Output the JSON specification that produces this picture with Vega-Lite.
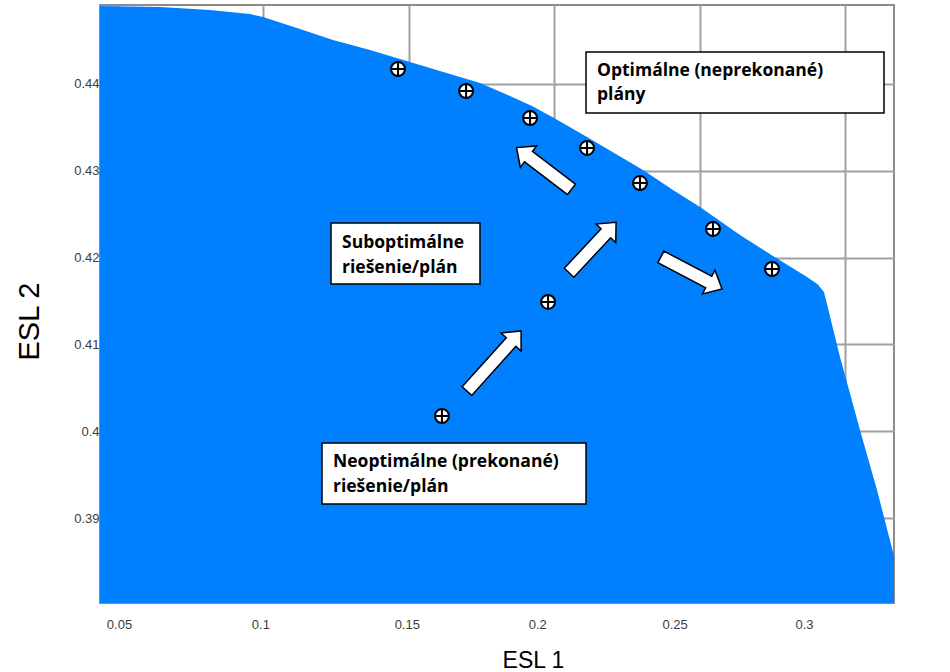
{
  "$schema": "https://vega.github.io/schema/vega-lite/v6.json",
  "width": 794,
  "height": 598,
  "autosize": {"type": "none"},
  "padding": {"left": 100, "top": 5, "right": 56, "bottom": 69},
  "background": "white",
  "config": {
    "view": {"stroke": "#8c8c8c", "strokeWidth": 2},
    "axis": {
      "domain": false,
      "ticks": false,
      "grid": true,
      "gridColor": "#a0a0a0",
      "gridWidth": 2,
      "labelFont": "Liberation Sans",
      "labelFontSize": 13,
      "labelColor": "#3c3c3c",
      "titleFont": "Liberation Sans",
      "titleFontWeight": "normal",
      "titleColor": "#000000"
    },
    "axisX": {
      "labelPadding": 15,
      "titleFontSize": 23,
      "titleX": 433,
      "titleY": 64,
      "titleAlign": "center",
      "titleBaseline": "alphabetic",
      "titleAngle": 0
    },
    "axisY": {
      "labelPadding": 1,
      "titleFontSize": 29,
      "titleX": -71,
      "titleY": 316,
      "titleAlign": "center",
      "titleBaseline": "middle",
      "titleAngle": -90
    }
  },
  "datasets": {
    "frontier": [
      {"x": 0.04381, "y": 0.44899},
      {"x": 0.06444, "y": 0.44887},
      {"x": 0.08164, "y": 0.44852},
      {"x": 0.09539, "y": 0.44806},
      {"x": 0.09986, "y": 0.44772},
      {"x": 0.11259, "y": 0.44634},
      {"x": 0.12393, "y": 0.44507},
      {"x": 0.13666, "y": 0.44392},
      {"x": 0.15041, "y": 0.44253},
      {"x": 0.16073, "y": 0.44150},
      {"x": 0.17448, "y": 0.44012},
      {"x": 0.18480, "y": 0.43862},
      {"x": 0.19237, "y": 0.43747},
      {"x": 0.19993, "y": 0.43608},
      {"x": 0.21128, "y": 0.43389},
      {"x": 0.23054, "y": 0.43009},
      {"x": 0.24085, "y": 0.42779},
      {"x": 0.25014, "y": 0.42583},
      {"x": 0.26389, "y": 0.42260},
      {"x": 0.27524, "y": 0.42019},
      {"x": 0.28693, "y": 0.41777},
      {"x": 0.29070, "y": 0.41690},
      {"x": 0.29280, "y": 0.41600},
      {"x": 0.29828, "y": 0.40855},
      {"x": 0.30516, "y": 0.40014},
      {"x": 0.31101, "y": 0.39323},
      {"x": 0.31685, "y": 0.38563}
    ],
    "plans": [
      {"x": 0.1463, "y": 0.44173},
      {"x": 0.1697, "y": 0.43919},
      {"x": 0.1917, "y": 0.43608},
      {"x": 0.2113, "y": 0.43263},
      {"x": 0.2295, "y": 0.42859},
      {"x": 0.2546, "y": 0.42330},
      {"x": 0.2749, "y": 0.41869},
      {"x": 0.1979, "y": 0.41489},
      {"x": 0.1614, "y": 0.40175}
    ],
    "arrows": [
      {"x": 0.1793, "y": 0.40809, "angle": -48, "kind": "long"},
      {"x": 0.2132, "y": 0.42116, "angle": -47, "kind": "short"},
      {"x": 0.1965, "y": 0.43027, "angle": -142.8, "kind": "short"},
      {"x": 0.2472, "y": 0.41823, "angle": 27.7, "kind": "short"}
    ],
    "boxes": [
      {"x": 0.21094, "x2": 0.31341, "y": 0.44369, "y2": 0.43666},
      {"x": 0.12325, "x2": 0.17448, "y": 0.42399, "y2": 0.41696},
      {"x": 0.12015, "x2": 0.21094, "y": 0.39864, "y2": 0.39162}
    ],
    "labels": [
      {"x": 0.21472, "y": 0.44150, "text": ["Optimálne (neprekonané)", "plány"]},
      {"x": 0.12703, "y": 0.42168, "text": ["Suboptimálne", "riešenie/plán"]},
      {"x": 0.12393, "y": 0.39645, "text": ["Neoptimálne (prekonané)", "riešenie/plán"]}
    ]
  },
  "layer": [
    {
      "data": {"name": "frontier"},
      "mark": {"type": "area", "color": "#0080ff", "opacity": 1, "clip": true, "interpolate": "linear"},
      "encoding": {
        "x": {
          "field": "x", "type": "quantitative", "title": "ESL 1",
          "scale": {"domain": [0.04381, 0.31685], "nice": false, "zero": false},
          "axis": {
            "values": [0.05, 0.1, 0.15, 0.2, 0.25, 0.3],
            "format": "~g",
            "labelOffset": {
              "condition": [
                {"test": "datum.value > 0.29", "value": -41},
                {"test": "datum.value > 0.24", "value": -25},
                {"test": "datum.value > 0.19", "value": -17},
                {"test": "datum.value > 0.14", "value": -2},
                {"test": "datum.value > 0.09", "value": -3}
              ],
              "value": 1
            }
          }
        },
        "y": {
          "field": "y", "type": "quantitative", "title": "ESL 2",
          "scale": {"domain": [0.38021, 0.4491], "nice": false, "zero": false},
          "axis": {
            "values": [0.39, 0.4, 0.41, 0.42, 0.43, 0.44],
            "format": "~g"
          }
        }
      }
    },
    {
      "data": {"name": "boxes"},
      "mark": {"type": "rect", "fill": "#ffffff", "stroke": "#000000", "strokeWidth": 1.5},
      "encoding": {
        "x": {"field": "x", "type": "quantitative", "title": "ESL 1", "scale": {"domain": [0.04381, 0.31685], "nice": false, "zero": false}},
        "x2": {"field": "x2"},
        "y": {"field": "y", "type": "quantitative", "title": "ESL 2", "scale": {"domain": [0.38021, 0.4491], "nice": false, "zero": false}},
        "y2": {"field": "y2"}
      }
    },
    {
      "data": {"name": "labels"},
      "mark": {"type": "text", "align": "left", "baseline": "middle", "font": "Open Sans", "fontWeight": "bold", "fontSize": 17.5, "lineHeight": 24.5, "color": "#000000"},
      "encoding": {
        "x": {"field": "x", "type": "quantitative", "title": "ESL 1", "scale": {"domain": [0.04381, 0.31685], "nice": false, "zero": false}},
        "y": {"field": "y", "type": "quantitative", "title": "ESL 2", "scale": {"domain": [0.38021, 0.4491], "nice": false, "zero": false}},
        "text": {"field": "text"}
      }
    },
    {
      "data": {"name": "arrows"},
      "mark": {"type": "point", "filled": true, "fill": "#ffffff", "stroke": "#000000", "strokeWidth": 1.5, "opacity": 1, "fillOpacity": 1},
      "encoding": {
        "x": {"field": "x", "type": "quantitative", "title": "ESL 1", "scale": {"domain": [0.04381, 0.31685], "nice": false, "zero": false}},
        "y": {"field": "y", "type": "quantitative", "title": "ESL 2", "scale": {"domain": [0.38021, 0.4491], "nice": false, "zero": false}},
        "angle": {"field": "angle", "type": "quantitative", "scale": null},
        "shape": {
          "field": "kind", "type": "nominal", "legend": null,
          "scale": {
            "domain": ["long", "short"],
            "range": [
              "M-1,-0.16L0.63,-0.16L0.63,-0.333L1,0L0.63,0.333L0.63,0.16L-1,0.16Z",
              "M-1,-0.19L0.565,-0.19L0.565,-0.39L1,0L0.565,0.39L0.565,0.19L-1,0.19Z"
            ]
          }
        },
        "size": {
          "field": "kind", "type": "nominal", "legend": null,
          "scale": {"domain": ["long", "short"], "range": [6561, 4761]}
        }
      }
    },
    {
      "data": {"name": "plans"},
      "mark": {
        "type": "point",
        "shape": "M-1,0A1,1,0,1,1,1,0A1,1,0,1,1,-1,0ZM-1,0L1,0M0,-1L0,1",
        "size": 196,
        "filled": true,
        "fill": "#ffffff",
        "stroke": "#000000",
        "strokeWidth": 2,
        "opacity": 1,
        "fillOpacity": 1
      },
      "encoding": {
        "x": {"field": "x", "type": "quantitative", "title": "ESL 1", "scale": {"domain": [0.04381, 0.31685], "nice": false, "zero": false}},
        "y": {"field": "y", "type": "quantitative", "title": "ESL 2", "scale": {"domain": [0.38021, 0.4491], "nice": false, "zero": false}}
      }
    }
  ]
}
